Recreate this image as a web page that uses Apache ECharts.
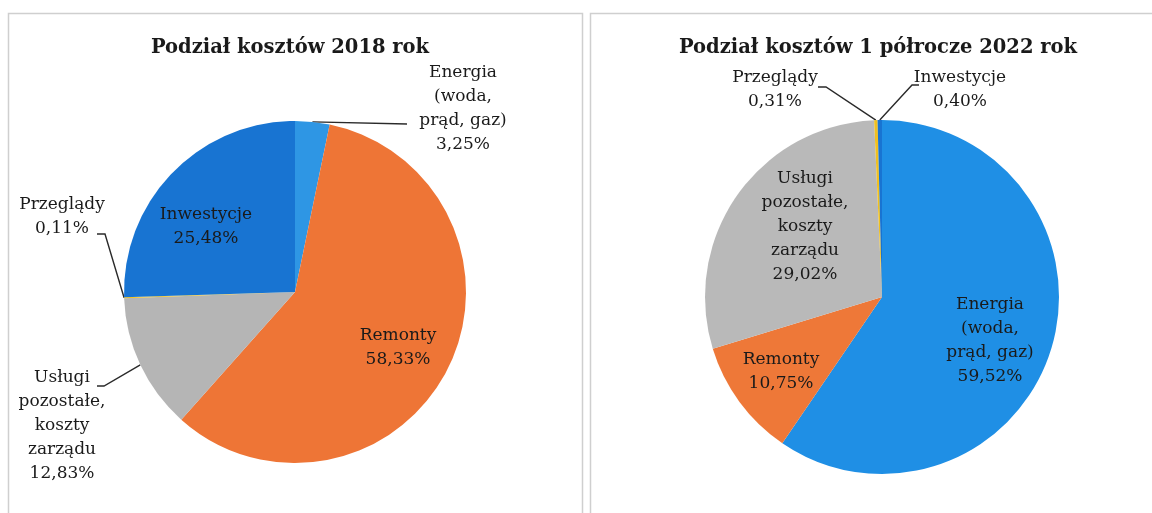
<!DOCTYPE html>
<html>
<head>
<meta charset="utf-8">
<script src="https://cdn.jsdelivr.net/npm/echarts@6/dist/echarts.min.js"></script>
<style>
  html, body { margin: 0; padding: 0; background: #fff; }
  #chart { width: 1152px; height: 513px; }
</style>
</head>
<body>
<div id="chart"></div>
<script>
// kategorie (kolejność jak w Excelu, od godziny 12 zgodnie z zegarem)
const categories = ['Energia\n(woda,\nprąd, gaz)', 'Remonty', 'Usługi\npozostałe,\nkoszty\nzarządu', 'Przeglądy', 'Inwestycje'];
// udział procentowy
const values2018 = [3.25, 58.33, 12.83, 0.11, 25.48];
const values2022 = [59.52, 10.75, 29.02, 0.31, 0.40];
// które etykiety są na zewnątrz (z linią odniesienia)
const outside2018 = [true, false, true, true, false];
const outside2022 = [false, false, false, true, true];

const titles = ['Podział kosztów 2018 rok', 'Podział kosztów 1 półrocze 2022 rok'];

// kolory wycinków
const colors2018 = ['#2E96E4', '#EE7536', '#B5B5B5', '#F2C21A', '#1874D2'];
const colors2022 = ['#1F8FE5', '#EE7838', '#B9B9B9', '#F0C020', '#1874D2'];

// położenie etykiet (środek tekstu) i załamania linii odniesienia
const labelSpots = [
  [
    { x: 463, y: 109, line: [[407, 124], [407, 124]] },
    { x: 398, y: 348 },
    { x: 62, y: 426, line: [[104, 386], [97, 386]] },
    { x: 62, y: 217, line: [[105, 234], [97, 234]] },
    { x: 206, y: 227 }
  ],
  [
    { x: 990, y: 341 },
    { x: 781, y: 372 },
    { x: 805, y: 227 },
    { x: 775, y: 90, line: [[826, 87], [818, 87]] },
    { x: 960, y: 90, line: [[912, 85], [919, 85]] }
  ]
];

const FONT = 'DejaVu Serif';

const fmt = (v) => v.toFixed(2).replace('.', ',') + '%';

const buildData = (values, colors, outside) =>
  values.map((v, i) => ({
    name: categories[i],
    value: v,
    itemStyle: { color: colors[i] },
    label: { position: outside[i] ? 'outside' : 'inside' },
    labelLine: { show: outside[i] }
  }));

const pieSeries = (center, radius, values, colors, outside) => ({
  type: 'pie',
  center: center,
  radius: radius,
  startAngle: 90,
  clockwise: true,
  avoidLabelOverlap: false,
  silent: true,
  itemStyle: { borderWidth: 0 },
  label: {
    show: true,
    fontFamily: FONT,
    fontSize: 17,
    lineHeight: 24,
    color: '#1a1a1a',
    align: 'center',
    formatter: (p) => p.name + '\n' + fmt(p.value)
  },
  labelLine: {
    show: true,
    lineStyle: { color: '#2a2a2a', width: 1.4 }
  },
  labelLayout: function (params) {
    const spot = labelSpots[params.seriesIndex][params.dataIndex];
    const res = { x: spot.x, y: spot.y, align: 'center', verticalAlign: 'middle' };
    if (spot.line && params.labelLinePoints) {
      res.labelLinePoints = [params.labelLinePoints[0]].concat(spot.line);
    }
    return res;
  },
  data: buildData(values, colors, outside)
});

const chart = echarts.init(document.getElementById('chart'));

const titleStyle = { fontFamily: FONT, fontWeight: 'bold', fontSize: 19.5, color: '#1a1a1a' };

const options = {
  backgroundColor: '#fff',
  animation: false,
  title: [
    { text: titles[0], left: 290, top: 38, padding: 0, textAlign: 'center', textStyle: titleStyle },
    { text: titles[1], left: 878, top: 38, padding: 0, textAlign: 'center', textStyle: titleStyle }
  ],
  // ramki obu wykresów
  graphic: [
    {
      type: 'rect',
      shape: { x: 8.5, y: 13.5, width: 574, height: 530 },
      style: { fill: 'none', stroke: '#cfcfcf', lineWidth: 1.5 }
    },
    {
      type: 'rect',
      shape: { x: 590.5, y: 13.5, width: 600, height: 530 },
      style: { fill: 'none', stroke: '#cfcfcf', lineWidth: 1.5 }
    }
  ],
  series: [
    pieSeries([295, 292], 171, values2018, colors2018, outside2018),
    pieSeries([882, 297], 177, values2022, colors2022, outside2022)
  ]
};

chart.setOption(options);
</script>
</body>
</html>
